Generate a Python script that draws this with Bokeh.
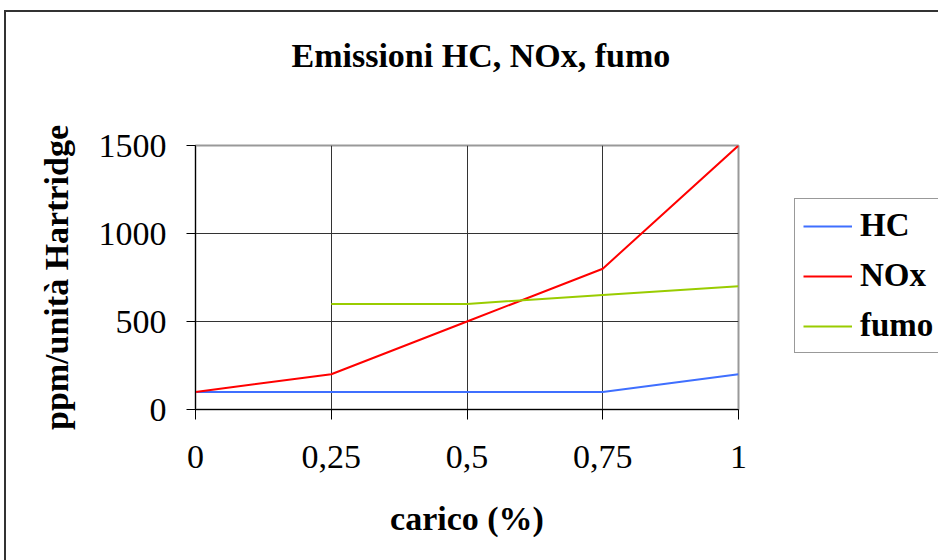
from bokeh.plotting import figure
from bokeh.layouts import row
from bokeh.models import (FixedTicker, CustomJSTickFormatter, Legend, LegendItem, Range1d,
                          Title)
from bokeh.embed import file_html
from bokeh.resources import INLINE

carico = [0, 0.25, 0.5, 0.75, 1]
hc = [100, 100, 100, 100, 200]
nox = [100, 200, 500, 800, 1500]
fumo_x = [0.25, 0.5, 0.75, 1]
fumo = [600, 600, 650, 700]
x_ticks = [0, 0.25, 0.5, 0.75, 1]
y_ticks = [0, 500, 1000, 1500]
series_names = ["HC", "NOx", "fumo"]
series_colors = ["#3F6FFF", "#FF0000", "#99CC00"]

FONT = "Liberation Serif"

p = figure(width=785, height=550, output_backend="svg", toolbar_location=None,
           x_range=Range1d(0, 1), y_range=Range1d(0, 1500),
           min_border_left=189, min_border_right=53, min_border_top=133, min_border_bottom=153)
p.background_fill_color = "white"
p.border_fill_color = "white"
p.outline_line_color = "#999999"
p.outline_line_width = 2

xax = p.below[0]
yax = p.left[0]

for ax in (xax, yax):
    ax.major_label_text_font = FONT
    ax.major_label_text_font_size = "34px"
    ax.major_label_text_color = "black"
    ax.axis_label_text_font = FONT
    ax.axis_label_text_font_size = "34px"
    ax.axis_label_text_font_style = "bold"
    ax.axis_label_text_color = "black"
    ax.minor_tick_line_color = None
    ax.major_tick_in = 0
    ax.axis_line_color = "black"
    ax.major_tick_line_color = "black"

xax.ticker = FixedTicker(ticks=x_ticks)
xax.formatter = CustomJSTickFormatter(code="return String(tick).replace('.', ',');")
xax.major_tick_out = 10
xax.major_label_standoff = 26
xax.axis_label = "carico (%)"
xax.axis_label_standoff = 29

yax.ticker = FixedTicker(ticks=y_ticks)
yax.major_tick_out = 9
yax.major_label_standoff = 20
yax.axis_label = "ppm/unità Hartridge"
yax.axis_label_standoff = 21

# blank spacer panel between frame and title, then the title itself
p.add_layout(Title(text=" ", text_font_size="2px", standoff=68), "above")
title = Title(text="Emissioni HC, NOx, fumo", text_font=FONT, text_font_size="34px",
              text_font_style="bold", text_color="black", align="left", offset=96,
              standoff=0)
p.add_layout(title, "above")

p.xgrid.grid_line_color = "#333333"
p.ygrid.grid_line_color = "#333333"
p.xgrid.grid_line_alpha = 1
p.ygrid.grid_line_alpha = 1

r_hc = p.line(carico, hc, line_color=series_colors[0], line_width=2)
r_nox = p.line(carico, nox, line_color=series_colors[1], line_width=2)
r_fumo = p.line(fumo_x, fumo, line_color=series_colors[2], line_width=2)

# legend panel to the right of the chart (its frame is aligned with the chart's frame);
# the key lines use the same series but lie outside this panel's (0..1) view
q = figure(width=149, height=550, output_backend="svg", toolbar_location=None,
           x_range=Range1d(0, 1), y_range=Range1d(0, 1),
           x_axis_location=None, y_axis_location=None,
           min_border_left=0, min_border_right=0, min_border_top=0, min_border_bottom=0)
q.grid.visible = False
q.outline_line_color = None
q.background_fill_color = "white"
q.border_fill_color = "white"
keys = [q.line(carico, hc, line_color=series_colors[0], line_width=2),
        q.line(carico, nox, line_color=series_colors[1], line_width=2),
        q.line(fumo_x, fumo, line_color=series_colors[2], line_width=2)]

legend = Legend(items=[LegendItem(label=n, renderers=[r]) for n, r in zip(series_names, keys)],
                location=(3, 56))
legend.label_text_font = FONT
legend.label_text_font_size = "33px"
legend.label_text_font_style = "bold"
legend.label_text_color = "black"
legend.glyph_width = 49
legend.glyph_height = 30
legend.label_height = 30
legend.spacing = 13
legend.padding = 8
legend.label_standoff = 8
legend.border_line_color = "#333333"
legend.border_line_width = 1.5
legend.background_fill_color = "white"
legend.background_fill_alpha = 1
legend.margin = 0
q.add_layout(legend)

layout = row(p, q, margin=(10, 0, 0, 4), spacing=0,
             styles={"border-top": "2px solid #333333", "border-left": "2px solid #333333"})

open("out.html", "w").write(file_html(layout, INLINE))
